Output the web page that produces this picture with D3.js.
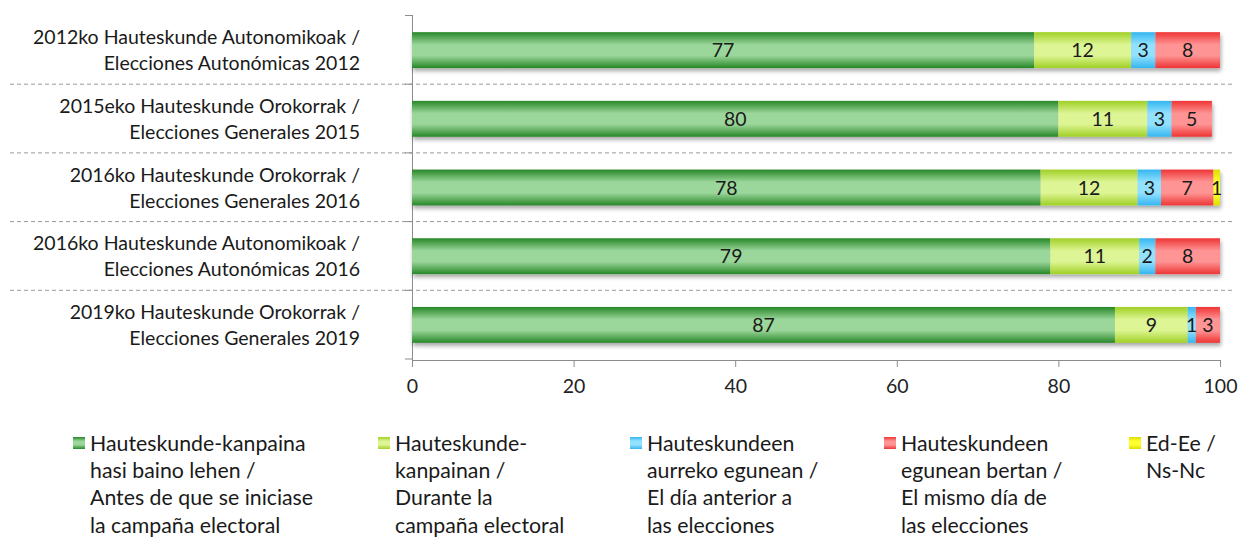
<!DOCTYPE html>
<html><head><meta charset="utf-8">
<script src="https://cdn.jsdelivr.net/npm/d3@7"></script>
<style>
html,body{margin:0;padding:0;background:#fff;}
svg{display:block;font-family:Lato,"Open Sans",sans-serif;}
</style></head>
<body>
<svg id="chart" width="1239" height="538"></svg>
<script>
const categories = [
  "2012ko Hauteskunde Autonomikoak /\nElecciones Autonómicas 2012",
  "2015eko Hauteskunde Orokorrak /\nElecciones Generales 2015",
  "2016ko Hauteskunde Orokorrak /\nElecciones Generales 2016",
  "2016ko Hauteskunde Autonomikoak /\nElecciones Autonómicas 2016",
  "2019ko Hauteskunde Orokorrak /\nElecciones Generales 2019"
];
const seriesNames = [
  "Hauteskunde-kanpaina\nhasi baino lehen /\nAntes de que se iniciase\nla campaña electoral",
  "Hauteskunde-\nkanpainan /\nDurante la\ncampaña electoral",
  "Hauteskundeen\naurreko egunean /\nEl día anterior a\nlas elecciones",
  "Hauteskundeen\negunean bertan /\nEl mismo día de\nlas elecciones",
  "Ed-Ee /\nNs-Nc"
];
const antes    = [77, 80, 77.8, 79, 87];
const durante  = [12, 11, 12, 11, 9];
const anterior = [3, 3, 2.9, 2, 1];
const mismo    = [8, 5, 6.5, 8, 3];
const nsnc     = [0, 0, 0.8, 0, 0];
const xTicks   = [0, 20, 40, 60, 80, 100];

const seriesValues = [antes, durante, anterior, mismo, nsnc];
const colors = [
  {edge:"#278727", mid:"#9bd69b"},
  {edge:"#a0d025", mid:"#ddf594"},
  {edge:"#35b6f0", mid:"#92e2ff"},
  {edge:"#ee3535", mid:"#ff9494"},
  {edge:"#dcdc00", mid:"#ffff30"}
];

const svg = d3.select("#chart");
const defs = svg.append("defs");
colors.forEach((c,i)=>{
  const g = defs.append("linearGradient").attr("id","g"+i).attr("x1",0).attr("y1",0).attr("x2",0).attr("y2",1);
  g.append("stop").attr("offset","0%").attr("stop-color",c.edge);
  g.append("stop").attr("offset","35%").attr("stop-color",c.mid);
  g.append("stop").attr("offset","65%").attr("stop-color",c.mid);
  g.append("stop").attr("offset","100%").attr("stop-color",c.edge);
});
const f = defs.append("filter").attr("id","sh").attr("x","-5%").attr("y","-20%").attr("width","110%").attr("height","160%");
f.append("feGaussianBlur").attr("in","SourceAlpha").attr("stdDeviation",2).attr("result","b");
f.append("feOffset").attr("in","b").attr("dx",1).attr("dy",3).attr("result","o");
f.append("feComponentTransfer").attr("in","o").attr("result","o2").append("feFuncA").attr("type","linear").attr("slope",0.35);
const fm = f.append("feMerge");
fm.append("feMergeNode").attr("in","o2");
fm.append("feMergeNode").attr("in","SourceGraphic");

const x = d3.scaleLinear().domain([0,100]).range([412,1220]);
const y = d3.scaleBand().domain(categories).range([15,360]).paddingInner(0.478).paddingOuter(0.25);

const step = y.step();
const plotTop = y.range()[0];
const plotBottom = y.range()[1];

// separators
svg.append("g").selectAll("line").data(categories.slice(1)).join("line")
  .attr("x1",10).attr("x2",1232)
  .attr("y1",(d,i)=>plotTop+step*(i+1)+0.5).attr("y2",(d,i)=>plotTop+step*(i+1)+0.5)
  .attr("stroke","#9a9a9a").attr("stroke-width",1).attr("stroke-dasharray","4,3");

// left axis line + ticks at boundaries
svg.append("line").attr("x1",x(0)+0.5).attr("x2",x(0)+0.5).attr("y1",plotTop).attr("y2",plotBottom+7).attr("stroke","#8c8c8c");
svg.append("g").selectAll("line").data(d3.range(categories.length+1)).join("line")
  .attr("x1",x(0)-7).attr("x2",x(0)).attr("y1",i=>plotTop+step*i+0.5).attr("y2",i=>plotTop+step*i+0.5).attr("stroke","#8c8c8c");

// x axis
const xa = svg.append("g").attr("transform",`translate(0,${plotBottom})`)
  .call(d3.axisBottom(x).tickValues(xTicks).tickSize(7).tickSizeOuter(0).tickPadding(12));
xa.select(".domain").attr("stroke","#8c8c8c");
xa.selectAll(".tick line").attr("stroke","#8c8c8c");
xa.selectAll(".tick text").attr("font-size",19.5).attr("fill","#222").attr("font-family","Lato,'Open Sans',sans-serif");

// stacked data
const rows = categories.map((c,ci)=>{
  let acc = 0;
  return seriesValues.map((s,si)=>{ const v=s[ci]; const r={cat:c,si,v,x0:acc,x1:acc+v}; acc+=v; return r; });
});
const barG = svg.append("g");
rows.forEach(r=>{
  const g = barG.append("g").attr("filter","url(#sh)");
  g.selectAll("rect").data(r.filter(d=>d.v>0)).join("rect")
    .attr("x",d=>x(d.x0)).attr("width",d=>x(d.x1)-x(d.x0))
    .attr("y",d=>y(d.cat)).attr("height",y.bandwidth())
    .attr("fill",d=>`url(#g${d.si})`);
});
barG.append("g").selectAll("text").data(rows.flat().filter(d=>d.v>0)).join("text")
  .attr("x",d=>(x(d.x0)+x(d.x1))/2).attr("y",d=>y(d.cat)+y.bandwidth()/2)
  .attr("dy","0.36em").attr("text-anchor","middle")
  .attr("font-size",19.5).attr("fill","#1a1a1a")
  .text(d=>Math.round(d.v));

// category labels
const cl = svg.append("g");
categories.forEach(c=>{
  const t = cl.append("text").attr("text-anchor","end").attr("font-size",19.5).attr("fill","#1a1a1a");
  c.split("\n").forEach((l,i)=>{
    t.append("tspan").attr("x",360).attr("y",y(c)+y.bandwidth()/2 + (i-0.5)*26).attr("dy","0.36em").text(l);
  });
});

// legend
const legX = [73, 378, 630, 884, 1129];
const lg = svg.append("g");
seriesNames.forEach((n,i)=>{
  const g = lg.append("g");
  g.append("rect").attr("x",legX[i]).attr("y",437).attr("width",12).attr("height",12).attr("fill",`url(#g${i})`);
  const t = g.append("text").attr("font-size",21.3).attr("fill","#1a1a1a");
  n.split("\n").forEach((l,j)=>{
    t.append("tspan").attr("x",legX[i]+17).attr("y",443+j*27.3).attr("dy","0.36em").text(l);
  });
});
</script>
</body></html>
